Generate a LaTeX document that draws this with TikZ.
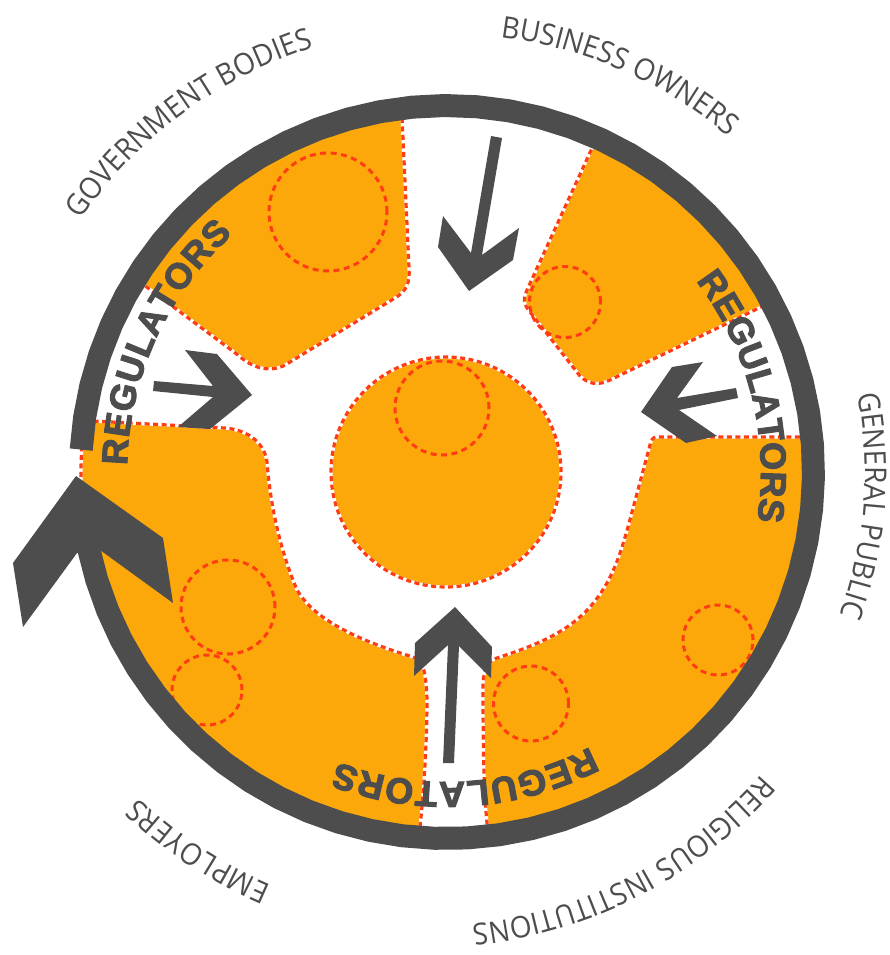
\documentclass[tikz,border=0pt]{standalone}
\usepackage{fontspec}
\usetikzlibrary{decorations.text}
\newfontfamily\regfont{Liberation Sans Bold}[FakeBold=3]
\newfontfamily\lblfont{Open Sans}[FakeStretch=0.93]
\definecolor{dk}{HTML}{4D4D4D}
\definecolor{org}{HTML}{FCA80A}
\definecolor{rd}{HTML}{FF3D14}
\newcommand\regtxt{\regfont\fontsize{36}{36}\selectfont\color{dk}}
\newcommand\lbltxt{\lblfont\fontsize{30}{30}\selectfont\color{dk}}
% plot along a circle, angles measured clockwise on the page
\newcommand\ringarc[5]{plot[domain=#4:#5,samples=70,variable=\t] ({#1+#3*cos(\t)},{#2+#3*sin(\t)})}
\newcommand\ringto[5]{-- plot[domain=#4:#5,samples=70,variable=\t] ({#1+#3*cos(\t)},{#2+#3*sin(\t)})}
\tikzset{
  x=1pt,y=-1pt,
  zone/.style={fill=org,draw=white,line width=3.2pt},
  zonedash/.style={draw=rd,line width=3.2pt,dash pattern=on 5pt off 3.5pt},
  ringdash/.style={draw=rd,line width=3pt,dash pattern=on 6pt off 4.5pt},
  pointer/.style={fill=dk,draw=none},
  regarc/.style={decorate,decoration={text along path,text align={fit to path},text={|\regtxt|REGULATORS}}},
  lblarc/.style={decorate,decoration={text along path,text align={fit to path},text={|\lbltxt|#1}}},
}
\newcommand\shapeA{(402,117) \ringto{447}{472}{358}{262.7}{211.7} -- (238,355) .. controls (252,368) and (272,375) .. (290,362) -- (395,298) .. controls (407,291) and (410,282) .. (409,268) -- cycle}
\newcommand\shapeB{(593,146) \ringto{447}{472}{358}{294.3}{332.3} -- (610,380) .. controls (598,386) and (588,384) .. (580,376) -- (530,312) .. controls (523,303) and (523,300) .. (527,290) -- cycle}
\newcommand\shapeC{(803,437) \ringto{447}{472}{358}{354.3}{443.5} .. controls (483,790) and (483,720) .. (483,683) .. controls (484,668) and (488,661) .. (497,658) .. controls (530,647) and (565,635) .. (590,607) .. controls (612,582) and (620,555) .. (628,527) -- (650,445) .. controls (651,440) and (653,437) .. (657,437) -- cycle}
\newcommand\shapeD{(420,827) \ringto{447}{472}{358}{94.4}{170} \ringto{447}{472}{366}{172}{184} -- (92,421) -- (225,428) .. controls (250,430) and (265,445) .. (267,462) .. controls (270,500) and (278,545) .. (297,590) .. controls (310,612) and (340,635) .. (413,657) .. controls (422,660) and (426,668) .. (427,700) .. controls (427,730) and (425,780) .. (420,827) -- cycle}
\begin{document}
\begin{tikzpicture}
\useasboundingbox (0,0) rectangle (889,955);
% zones
\path[zone] \shapeA; \path[zonedash] \shapeA;
\path[zone] \shapeB; \path[zonedash] \shapeB;
\path[zone] \shapeC; \path[zonedash] \shapeC;
\path[zone] \shapeD; \path[zonedash] \shapeD;
\path[zone] (446,472) circle[radius=115pt];
\path[zonedash] (446,472) circle[radius=115pt];
% dashed circles
\path[ringdash] (328,212) circle[radius=59pt];
\path[ringdash] (565,302) circle[radius=35.5pt];
\path[ringdash] (442,408) circle[radius=47pt];
\path[ringdash] (228,607) circle[radius=47pt];
\path[ringdash] (207,690) circle[radius=35pt];
\path[ringdash] (718,640) circle[radius=35pt];
\path[ringdash] (531,703.5) circle[radius=37.5pt];
% ring
\draw[dk,line width=23pt] \ringarc{447}{472}{366.5}{183.5}{533};
\fill[pointer] (76,476) -- (163,538) -- (173,603) -- (100,550) -- (77,553) -- (23,627) -- (13,563) -- cycle;
% arrows
\fill[pointer] (491,136) -- (502,138) -- (482,255) -- (519,228) -- (513,260) -- (469,291) -- (438,247) -- (443,216) -- (471,253) -- cycle;
\fill[pointer] (641,412) -- (672,367) -- (703,362) -- (677,398) -- (736,388) -- (738,398) -- (679,410) -- (717,436) -- (686,443) -- cycle;
\fill[pointer] (252,395) -- (217,354) -- (185,350) -- (213,386) -- (154,381) -- (153,391) -- (213,397) -- (178,427) -- (210,429) -- cycle;
\fill[pointer] (455,607) -- (492,647) -- (491,678) -- (459,646) -- (454,763) -- (443,763) -- (448,645) -- (414,676) -- (415,643) -- cycle;
% regulators
\path[regarc] \ringarc{447}{472}{320}{181.2}{228};
\path[regarc] \ringarc{447}{472}{314}{-37.5}{9};
\path[regarc] \ringarc{447}{472}{310}{62.5}{110.7};
% labels
\path[lblarc=GOVERNMENT BODIES] \ringarc{447}{472}{445}{214.5}{251.6};
\path[lblarc=BUSINESS OWNERS] \ringarc{447}{472}{438}{277}{310};
\path[lblarc=GENERAL PUBLIC] \ringarc{447}{472}{418}{-10.7}{20};
\path[lblarc=RELIGIOUS INSTITUTIONS] \ringarc{425}{480}{447}{41.2}{84};
\path[lblarc=EMPLOYERS] \ringarc{447}{472}{449}{113}{133.5};
\end{tikzpicture}
\end{document}
